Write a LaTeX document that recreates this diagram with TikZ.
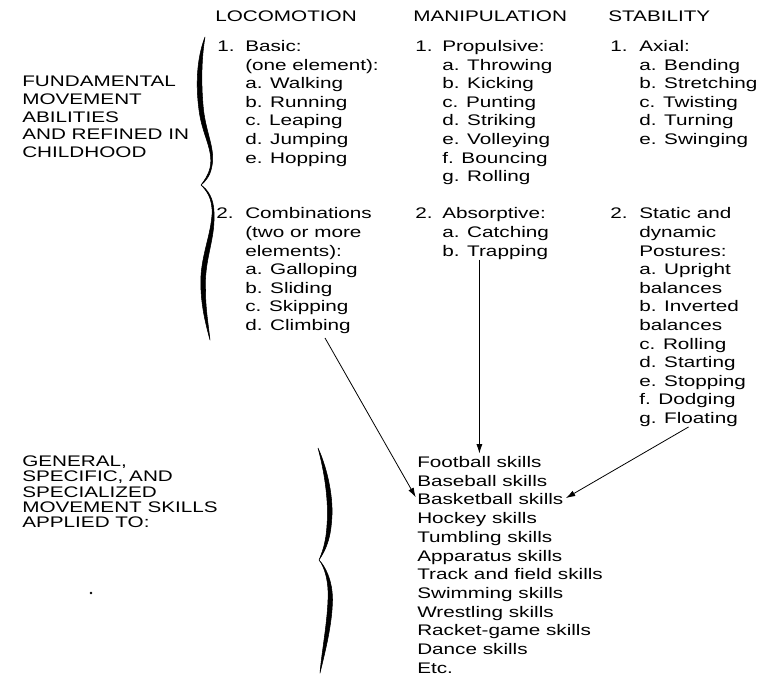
\documentclass[tikz,border=0pt]{standalone}
\usepackage{fontspec}
\setmainfont{Liberation Sans}[FakeStretch=1.35]
\usetikzlibrary{arrows.meta,calc}
\tikzset{
  txt/.style={anchor=base west, inner sep=0pt, font=\fontsize{11.5}{14}\selectfont},
  arr/.style={-{Latex[length=7pt,width=4.5pt]}, line width=0.6pt, shorten >=2pt},
  bracepart/.style={fill=black, draw=black, line width=0.4pt, line join=round}
}
\begin{document}
\begin{tikzpicture}[x=0.75pt, y=-0.75pt]
\useasboundingbox (0,0) rectangle (762,675);
% column heads
\node[txt] (hloc) at (215,21.5) {LOCOMOTION};
\node[txt] (hman) at (413,21.5) {MANIPULATION};
\node[txt] (hstab) at (608,21.5) {STABILITY};
% left labels
\foreach \k/\t in {0/FUNDAMENTAL,1/MOVEMENT,2/ABILITIES,3/AND REFINED IN,4/CHILDHOOD}{
  \node[txt] (fund\k) at (22,86.5+17.8*\k) {\t};
}
\foreach \k/\t in {0/{GENERAL,},1/{SPECIFIC, AND},2/SPECIALIZED,3/MOVEMENT SKILLS,4/APPLIED TO:}{
  \node[txt] (gen\k) at (22,466.5+15.25*\k) {\t};
}
% locomotion
\node[txt] (locn1) at (217,51.5) {1.};
\node[txt] (locn2) at (216,51.5+18.6*9) {2.};
\foreach \k/\t in {0/Basic:,1/{(one element):},2/a. Walking,3/b. Running,4/c. Leaping,
  5/d. Jumping,6/e. Hopping,9/Combinations,10/{(two or more},11/{elements):},
  12/a. Galloping,13/b. Sliding,14/c. Skipping,15/d. Climbing}{
  \node[txt] (loc\k) at (245,51.5+18.6*\k) {\t};
}
% manipulation
\node[txt] (mann1) at (415,51.5) {1.};
\node[txt] (mann2) at (415,51.5+18.6*9) {2.};
\foreach \k/\t in {0/Propulsive:,1/a. Throwing,2/b. Kicking,3/c. Punting,4/d. Striking,
  5/e. Volleying,6/f. Bouncing,7/g. Rolling,9/Absorptive:,10/a. Catching,11/b. Trapping}{
  \node[txt] (man\k) at (442,51.5+18.6*\k) {\t};
}
% stability
\node[txt] (stabn1) at (610,51.5) {1.};
\node[txt] (stabn2) at (610,51.5+18.6*9) {2.};
\foreach \k/\t in {0/Axial:,1/a. Bending,2/b. Stretching,3/c. Twisting,4/d. Turning,
  5/e. Swinging,9/Static and,10/dynamic,11/Postures:,12/a. Upright,13/balances,
  14/b. Inverted,15/balances,16/c. Rolling,17/d. Starting,18/e. Stopping,
  19/f. Dodging,20/g. Floating}{
  \node[txt] (stab\k) at (639,51.5+18.6*\k) {\t};
}
% skills
\foreach \k/\t in {0/Football skills,1/Baseball skills,2/Basketball skills,3/Hockey skills,
  4/Tumbling skills,5/Apparatus skills,6/Track and field skills,7/Swimming skills,
  8/Wrestling skills,9/Racket-game skills,10/Dance skills,11/Etc.}{
  \node[txt] (sk\k) at (417,467.5+18.7*\k) {\t};
}
% braces
\filldraw[bracepart] (205,37) .. controls (198,55) and (195,80) .. (199,110)
  .. controls (202,135) and (214,150) .. (210,168)
  .. controls (208,176) and (204,181) .. (201,185)
  .. controls (205,182) and (210,176) .. (211.5,168)
  .. controls (216,150) and (206.5,135) .. (203.5,110)
  .. controls (200.5,80) and (202,55) .. (205,37) -- cycle;
\filldraw[bracepart] (201,185) .. controls (206,190) and (213,198) .. (212,215)
  .. controls (210,240) and (199,260) .. (201,290)
  .. controls (202,310) and (206,325) .. (210,340)
  .. controls (208,322) and (205.5,308) .. (205.5,290)
  .. controls (204,260) and (215,240) .. (214,215)
  .. controls (214.5,198) and (207,189) .. (201,185) -- cycle;
\filldraw[bracepart] (318,448) .. controls (324,470) and (329,500) .. (327,525)
  .. controls (326,543) and (322,553) .. (319,560)
  .. controls (323.5,553) and (330,543) .. (331.5,522)
  .. controls (334,500) and (328,470) .. (318,448) -- cycle;
\filldraw[bracepart] (319,560) .. controls (324,566) and (329,580) .. (328,600)
  .. controls (327,625) and (322,650) .. (320,673)
  .. controls (325.5,650) and (332,625) .. (332.5,600)
  .. controls (332.5,580) and (325,566) .. (319,560) -- cycle;
% stray dot
\fill (91,593) circle (1.3);
% arrows
\draw[arr] ($(loc15.south east)+(-26,4)$) -- (sk2.west);
\draw[arr] (man11.south -| sk0.north) -- (sk0.north);
\draw[arr] (stab20.south) -- (sk2.east);
\end{tikzpicture}
\end{document}
